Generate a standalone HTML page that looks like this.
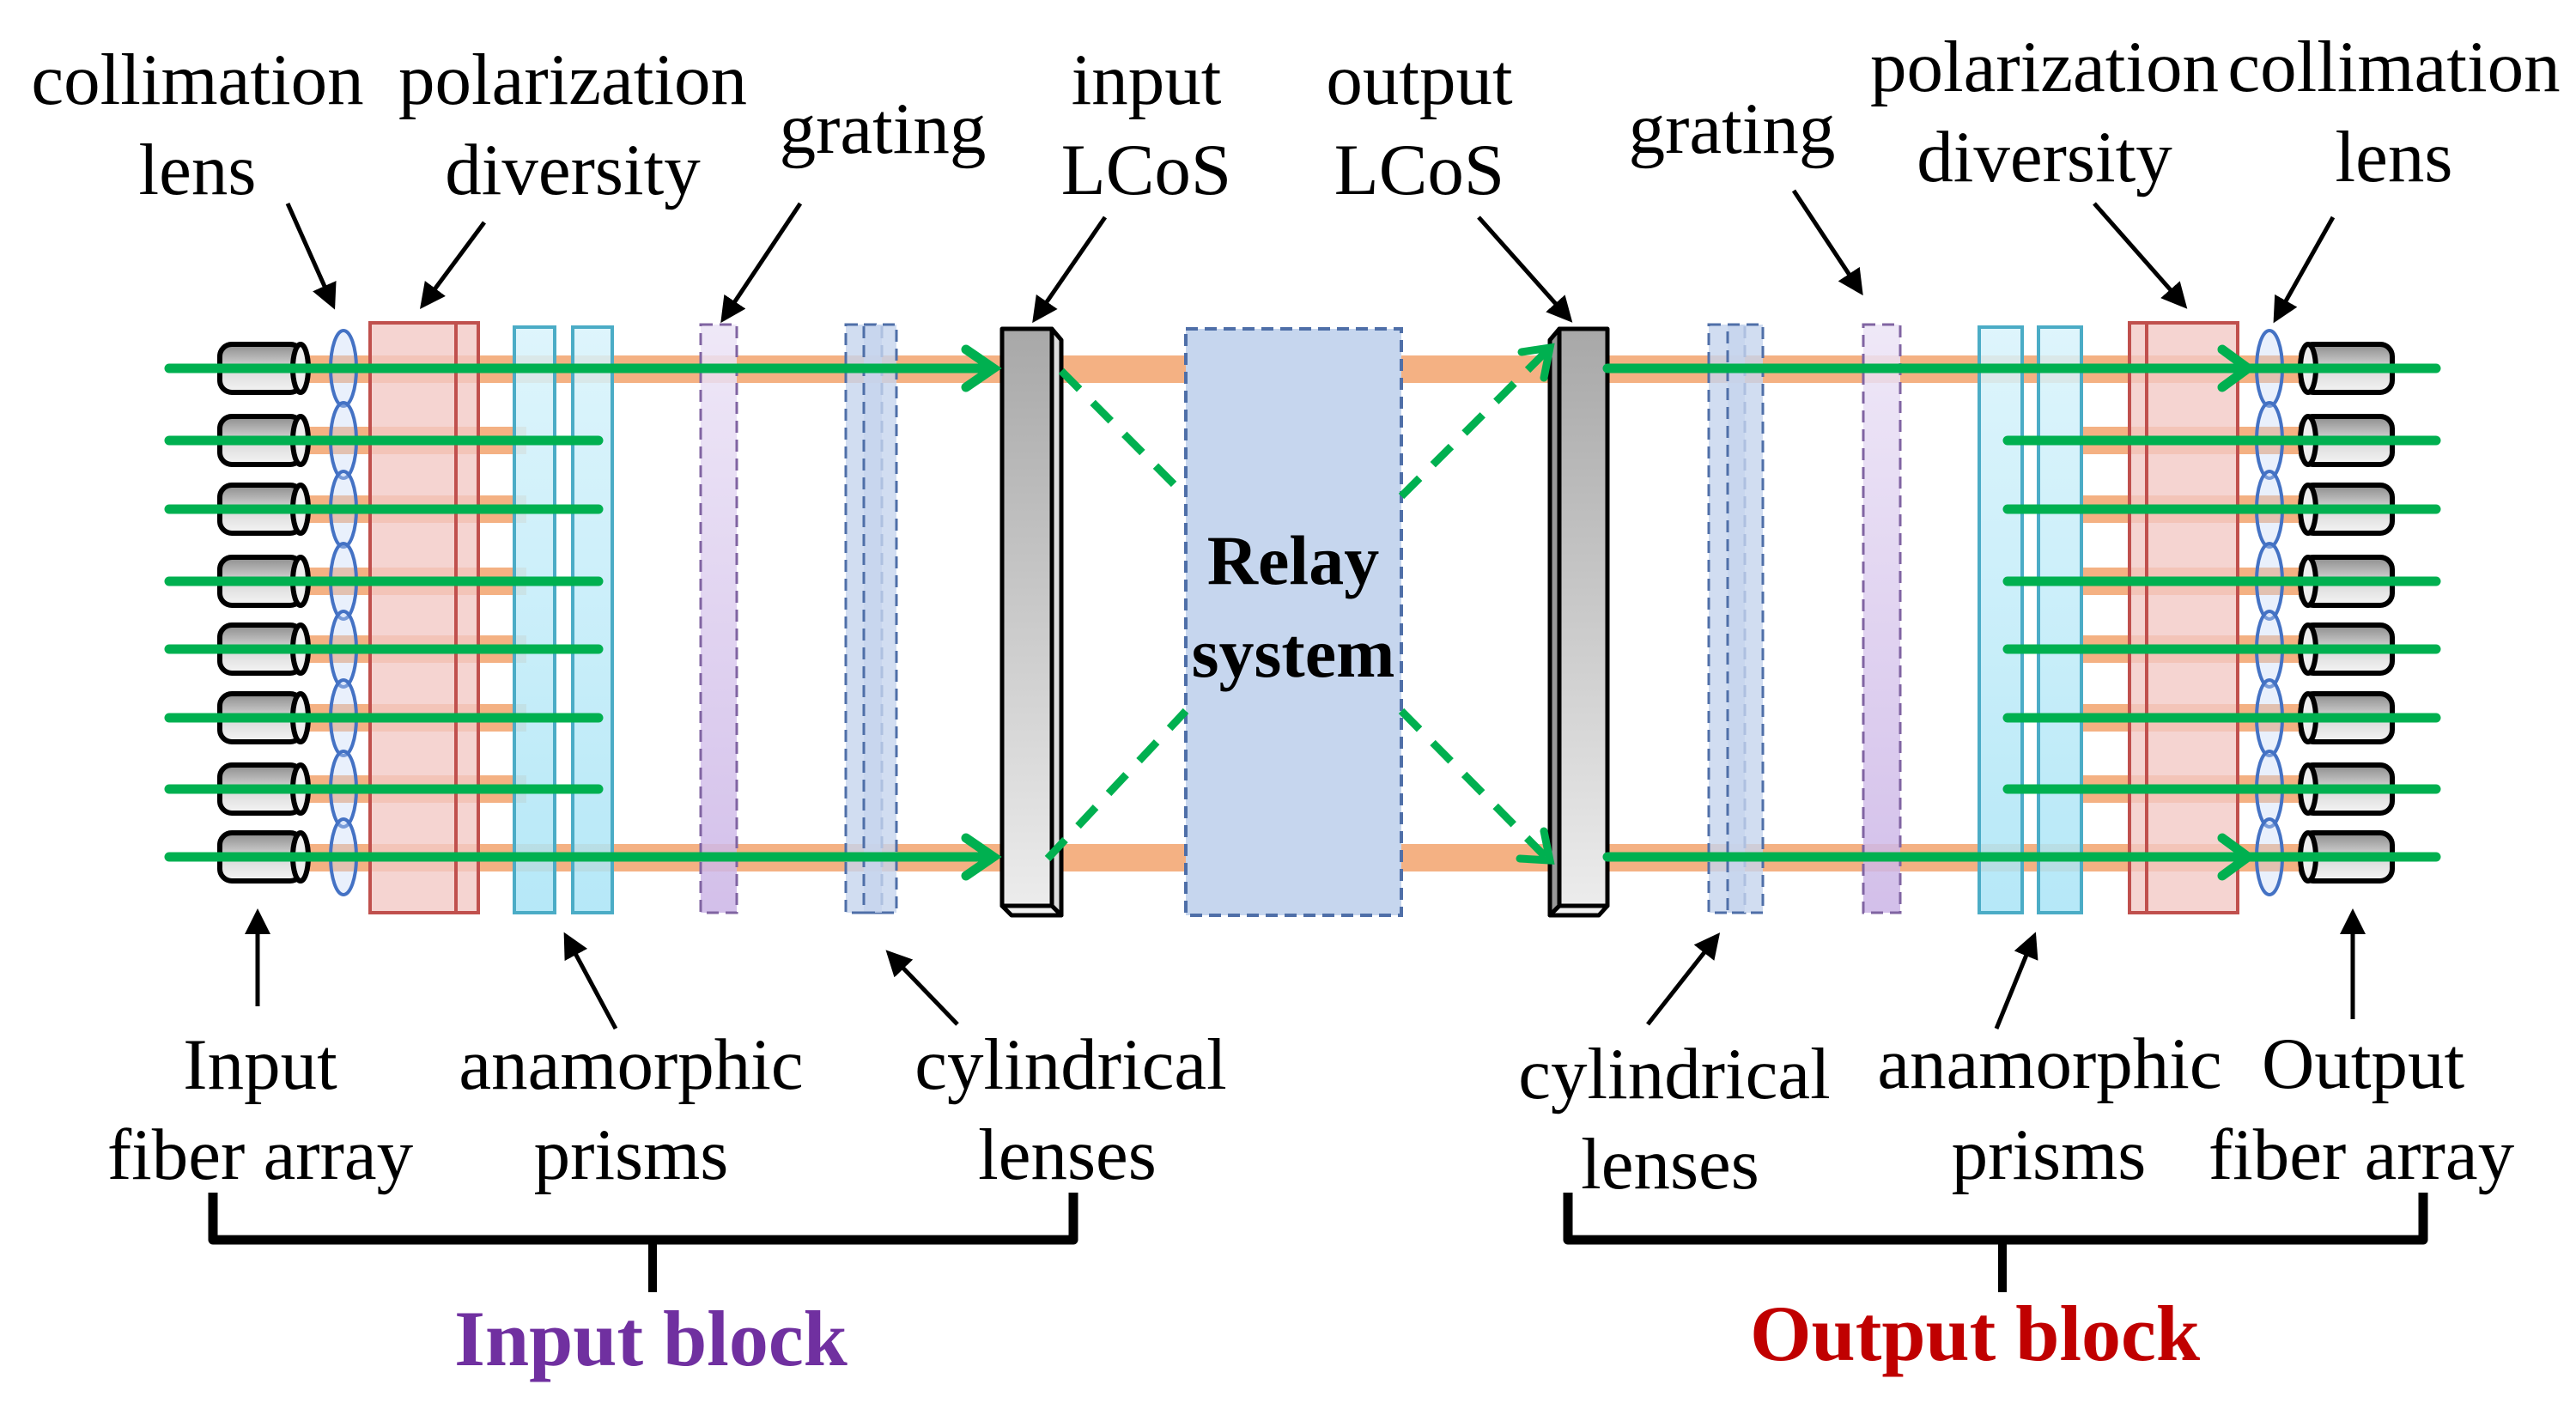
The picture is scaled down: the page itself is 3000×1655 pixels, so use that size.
<!DOCTYPE html>
<html><head><meta charset="utf-8"><style>
html,body{margin:0;padding:0;background:#fff}
svg{display:block}
text{font-family:"Liberation Serif","Times New Roman",serif;font-size:85px;fill:#000;text-anchor:middle}
</style></head><body>
<svg width="3000" height="1655" viewBox="0 0 3000 1655" xmlns="http://www.w3.org/2000/svg" font-family="Liberation Serif, serif">
<defs>
<linearGradient id="cyl" x1="0" y1="0" x2="0" y2="1"><stop offset="0" stop-color="#8c8c8c"/><stop offset="0.5" stop-color="#d8d8d8"/><stop offset="1" stop-color="#f4f4f4"/></linearGradient>
<linearGradient id="lc" x1="0" y1="0" x2="0" y2="1"><stop offset="0" stop-color="#a8a8a8"/><stop offset="1" stop-color="#ececec"/></linearGradient>
<linearGradient id="pu" x1="0" y1="0" x2="0" y2="1"><stop offset="0" stop-color="#ece4f6"/><stop offset="1" stop-color="#cbb4e6"/></linearGradient>
<linearGradient id="cy" x1="0" y1="0" x2="0" y2="1"><stop offset="0" stop-color="#d8f3fb"/><stop offset="1" stop-color="#a9e4f6"/></linearGradient>
<marker id="ah" markerWidth="6" markerHeight="6" refX="5" refY="3" orient="auto" markerUnits="strokeWidth"><path d="M0,0 L6,3 L0,6 Z" fill="#000"/></marker>
<g id="fibL"><rect x="256" y="-28" width="96" height="56" rx="14" fill="url(#cyl)" stroke="#000" stroke-width="6"/><ellipse cx="350" cy="0" rx="9" ry="28" fill="#eee" stroke="#000" stroke-width="6"/></g>
<g id="fibR"><rect x="2680" y="-28" width="106" height="56" rx="14" fill="url(#cyl)" stroke="#000" stroke-width="6"/><ellipse cx="2688" cy="0" rx="9" ry="28" fill="#eee" stroke="#000" stroke-width="6"/></g>
</defs>

<g fill="#f4b183">
<rect x="360" y="414" width="2320" height="32"/>
<rect x="360" y="983" width="2320" height="32"/>
<rect x="360" y="497" width="253" height="32"/><rect x="360" y="577" width="253" height="32"/><rect x="360" y="661" width="253" height="32"/><rect x="360" y="740" width="253" height="32"/><rect x="360" y="820" width="253" height="32"/><rect x="360" y="903" width="253" height="32"/>
<rect x="2426" y="497" width="254" height="32"/><rect x="2426" y="577" width="254" height="32"/><rect x="2426" y="661" width="254" height="32"/><rect x="2426" y="740" width="254" height="32"/><rect x="2426" y="820" width="254" height="32"/><rect x="2426" y="903" width="254" height="32"/>
</g>

<rect x="431" y="376" width="126" height="687" fill="#f2c9c6" fill-opacity="0.8" stroke="#c0504d" stroke-width="4"/>
<line x1="531" y1="376" x2="531" y2="1063" stroke="#c0504d" stroke-width="4"/>
<rect x="599" y="381" width="47" height="682" fill="url(#cy)" fill-opacity="0.85" stroke="#4bacc6" stroke-width="4"/>
<rect x="667" y="381" width="46" height="682" fill="url(#cy)" fill-opacity="0.85" stroke="#4bacc6" stroke-width="4"/>
<rect x="816" y="378" width="42" height="685" fill="url(#pu)" fill-opacity="0.85" stroke="#8064a2" stroke-width="3" stroke-dasharray="14,8"/>
<rect x="985" y="378" width="42" height="685" fill="#c5d5ee" fill-opacity="0.8" stroke="#4f6fa8" stroke-width="3" stroke-dasharray="14,8"/>
<rect x="1006" y="378" width="38" height="685" fill="#c5d5ee" fill-opacity="0.8" stroke="#4f6fa8" stroke-width="3" stroke-dasharray="14,8"/>
<rect x="1990" y="378" width="42" height="685" fill="#c5d5ee" fill-opacity="0.8" stroke="#4f6fa8" stroke-width="3" stroke-dasharray="14,8"/>
<rect x="2012" y="378" width="41" height="685" fill="#c5d5ee" fill-opacity="0.8" stroke="#4f6fa8" stroke-width="3" stroke-dasharray="14,8"/>
<rect x="2170" y="378" width="43" height="685" fill="url(#pu)" fill-opacity="0.85" stroke="#8064a2" stroke-width="3" stroke-dasharray="14,8"/>
<rect x="2305" y="381" width="50" height="682" fill="url(#cy)" fill-opacity="0.85" stroke="#4bacc6" stroke-width="4"/>
<rect x="2374" y="381" width="50" height="682" fill="url(#cy)" fill-opacity="0.85" stroke="#4bacc6" stroke-width="4"/>
<rect x="2480" y="376" width="126" height="687" fill="#f2c9c6" fill-opacity="0.8" stroke="#c0504d" stroke-width="4"/>
<line x1="2500" y1="376" x2="2500" y2="1063" stroke="#c0504d" stroke-width="4"/>

<g fill="#c9daf8" fill-opacity="0.4" stroke="#4472c4" stroke-width="4">
<ellipse cx="400" cy="429" rx="15" ry="44"/><ellipse cx="400" cy="513" rx="15" ry="44"/><ellipse cx="400" cy="593" rx="15" ry="44"/><ellipse cx="400" cy="677" rx="15" ry="44"/><ellipse cx="400" cy="756" rx="15" ry="44"/><ellipse cx="400" cy="836" rx="15" ry="44"/><ellipse cx="400" cy="919" rx="15" ry="44"/><ellipse cx="400" cy="998" rx="15" ry="44"/>
<ellipse cx="2643" cy="429" rx="15" ry="44"/><ellipse cx="2643" cy="513" rx="15" ry="44"/><ellipse cx="2643" cy="593" rx="15" ry="44"/><ellipse cx="2643" cy="677" rx="15" ry="44"/><ellipse cx="2643" cy="756" rx="15" ry="44"/><ellipse cx="2643" cy="836" rx="15" ry="44"/><ellipse cx="2643" cy="919" rx="15" ry="44"/><ellipse cx="2643" cy="998" rx="15" ry="44"/>
</g>

<use href="#fibL" y="429"/><use href="#fibL" y="513"/><use href="#fibL" y="593"/><use href="#fibL" y="677"/><use href="#fibL" y="756"/><use href="#fibL" y="836"/><use href="#fibL" y="919"/><use href="#fibL" y="998"/>
<use href="#fibR" y="429"/><use href="#fibR" y="513"/><use href="#fibR" y="593"/><use href="#fibR" y="677"/><use href="#fibR" y="756"/><use href="#fibR" y="836"/><use href="#fibR" y="919"/><use href="#fibR" y="998"/>

<rect x="1381" y="383" width="251" height="683" fill="#c6d6ee" stroke="#4f6fa8" stroke-width="4" stroke-dasharray="14,8"/>
<text x="1506" y="680" style="font-weight:bold;font-size:82px">Relay</text>
<text x="1506" y="788" style="font-weight:bold;font-size:82px">system</text>

<g stroke="#000" stroke-width="5" stroke-linejoin="round">
<rect x="1167" y="383" width="58" height="672" fill="url(#lc)"/>
<path d="M1225,383 L1236,396 L1236,1066 L1225,1055 Z" fill="#ddd"/>
<path d="M1167,1055 L1225,1055 L1236,1066 L1178,1066 Z" fill="#f0f0f0"/>
<rect x="1816" y="383" width="56" height="672" fill="url(#lc)"/>
<path d="M1816,383 L1805,396 L1805,1066 L1816,1055 Z" fill="#999"/>
<path d="M1816,1055 L1872,1055 L1862,1066 L1805,1066 Z" fill="#f0f0f0"/>
</g>

<g stroke="#00b050" stroke-width="11" fill="none" stroke-linecap="round">
<line x1="197" y1="429" x2="1155" y2="429"/><line x1="197" y1="998" x2="1155" y2="998"/>
<polyline points="1125,407 1157,429 1125,451"/><polyline points="1125,976 1157,998 1125,1020"/>
<line x1="197" y1="513" x2="697" y2="513"/><line x1="197" y1="593" x2="697" y2="593"/><line x1="197" y1="677" x2="697" y2="677"/><line x1="197" y1="756" x2="697" y2="756"/><line x1="197" y1="836" x2="697" y2="836"/><line x1="197" y1="919" x2="697" y2="919"/>
<line x1="1872" y1="429" x2="2837" y2="429"/><line x1="1872" y1="998" x2="2837" y2="998"/>
<polyline points="2588,407 2618,429 2588,451"/><polyline points="2588,976 2618,998 2588,1020"/>
<line x1="2338" y1="513" x2="2837" y2="513"/><line x1="2338" y1="593" x2="2837" y2="593"/><line x1="2338" y1="677" x2="2837" y2="677"/><line x1="2338" y1="756" x2="2837" y2="756"/><line x1="2338" y1="836" x2="2837" y2="836"/><line x1="2338" y1="919" x2="2837" y2="919"/>
</g>
<g stroke="#00b050" stroke-width="9" fill="none" stroke-dasharray="30,22">
<line x1="1236" y1="432" x2="1381" y2="578"/><line x1="1220" y1="1000" x2="1381" y2="828"/>
<line x1="1632" y1="578" x2="1800" y2="410"/><line x1="1632" y1="828" x2="1800" y2="998"/>
</g>
<g stroke="#00b050" stroke-width="9" fill="none" stroke-linecap="round">
<polyline points="1772,410 1805,405 1798,440"/><polyline points="1770,1000 1805,1002 1798,968"/>
</g>

<g stroke="#000" stroke-width="5" marker-end="url(#ah)">
<line x1="335" y1="237" x2="388" y2="356"/>
<line x1="564" y1="259" x2="492" y2="356"/>
<line x1="932" y1="237" x2="842" y2="372"/>
<line x1="1287" y1="253" x2="1205" y2="372"/>
<line x1="1722" y1="253" x2="1828" y2="372"/>
<line x1="2089" y1="222" x2="2167" y2="340"/>
<line x1="2439" y1="237" x2="2544" y2="356"/>
<line x1="2717" y1="253" x2="2650" y2="372"/>
<line x1="300" y1="1172" x2="300" y2="1063"/>
<line x1="717" y1="1198" x2="659" y2="1090"/>
<line x1="1115" y1="1193" x2="1035" y2="1110"/>
<line x1="1919" y1="1193" x2="2000" y2="1090"/>
<line x1="2325" y1="1198" x2="2369" y2="1090"/>
<line x1="2740" y1="1187" x2="2740" y2="1063"/>
</g>

<g stroke="#000" fill="none" stroke-linejoin="round">
<path d="M248,1389 L248,1444 L1250,1444 L1250,1389" stroke-width="11"/>
<line x1="760" y1="1444" x2="760" y2="1505" stroke-width="10"/>
<path d="M1826,1389 L1826,1444 L2822,1444 L2822,1389" stroke-width="11"/>
<line x1="2332" y1="1444" x2="2332" y2="1505" stroke-width="10"/>
</g>

<text x="230" y="121">collimation</text><text x="230" y="226">lens</text>
<text x="667" y="121">polarization</text><text x="667" y="226">diversity</text>
<text x="1028" y="178">grating</text>
<text x="1335" y="121">input</text><text x="1335" y="226">LCoS</text>
<text x="1653" y="121">output</text><text x="1653" y="226">LCoS</text>
<text x="2017" y="178">grating</text>
<text x="2381" y="106">polarization</text><text x="2381" y="211">diversity</text>
<text x="2788" y="106">collimation</text><text x="2788" y="211">lens</text>
<text x="303" y="1268">Input</text><text x="303" y="1373">fiber array</text>
<text x="735" y="1268">anamorphic</text><text x="735" y="1373">prisms</text>
<text x="1247" y="1268">cylindrical</text><text x="1243" y="1373">lenses</text>
<text x="1950" y="1279">cylindrical</text><text x="1945" y="1384">lenses</text>
<text x="2387" y="1267">anamorphic</text><text x="2386" y="1373">prisms</text>
<text x="2752" y="1267">Output</text><text x="2750" y="1373">fiber array</text>
<text x="758" y="1590" style="font-weight:bold;font-size:92px;fill:#7030a0">Input block</text>
<text x="2300" y="1584" style="font-weight:bold;font-size:92px;fill:#c00000">Output block</text>
</svg>
</body></html>
